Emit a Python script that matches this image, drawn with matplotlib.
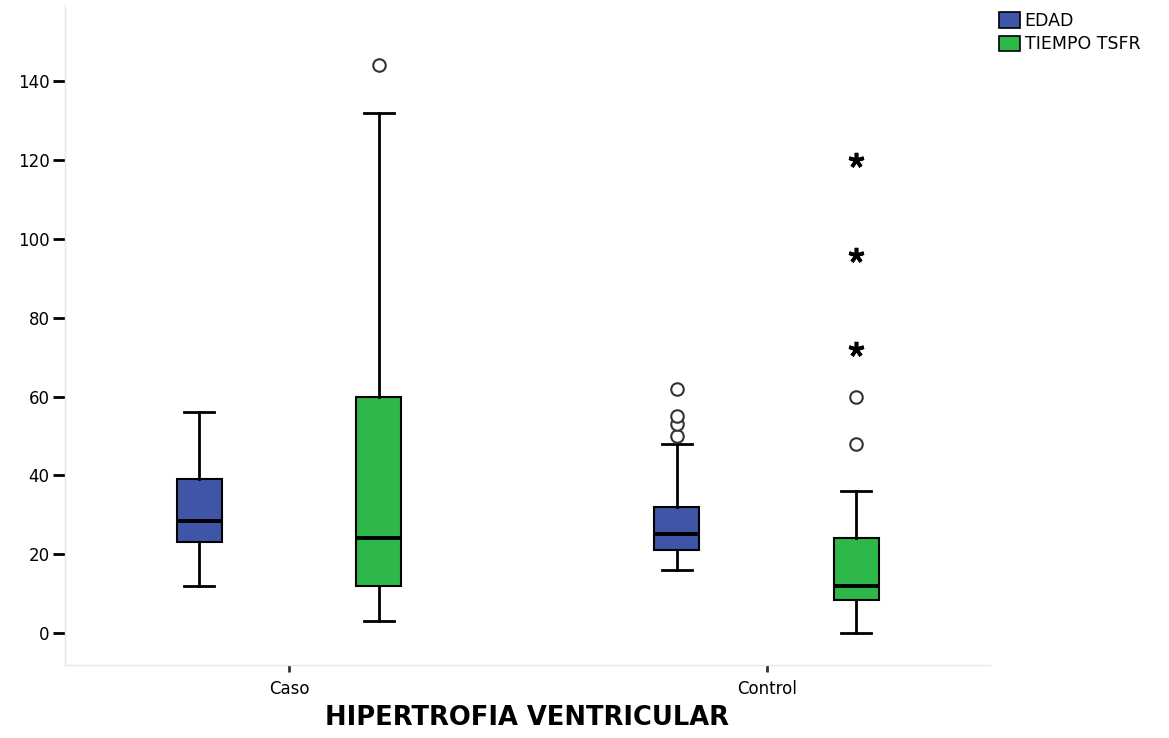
import matplotlib.pyplot as plt
from matplotlib.patches import Patch

plt.rcParams['font.family'] = ['DejaVu Sans']

# data (summary values of each box)
groups = ["Caso", "Control"]
series = ["EDAD", "TIEMPO TSFR"]
colors = ["#3F56A8", "#2FB84A"]

edad_whislo = [12, 16]
edad_q1 = [23, 21]
edad_med = [28.5, 25]
edad_q3 = [39, 32]
edad_whishi = [56, 48]
edad_outliers = [[], [50, 53, 55, 62]]
edad_extremes = [[], []]

tsfr_whislo = [3, 0]
tsfr_q1 = [12, 8.5]
tsfr_med = [24, 12]
tsfr_q3 = [60, 24]
tsfr_whishi = [132, 36]
tsfr_outliers = [[144], [48, 60]]
tsfr_extremes = [[], [72, 96, 120]]

y_ticks = [0, 20, 40, 60, 80, 100, 120, 140]

all_stats = [
    (edad_whislo, edad_q1, edad_med, edad_q3, edad_whishi, edad_outliers, edad_extremes),
    (tsfr_whislo, tsfr_q1, tsfr_med, tsfr_q3, tsfr_whishi, tsfr_outliers, tsfr_extremes),
]

fig = plt.figure(figsize=(11.69, 7.38), dpi=100)
ax = fig.add_axes([0.0556, 0.099, 0.791, 0.894])

offset = 0.188
width = 0.094

for s, (wlo, q1, med, q3, whi, outl, extr) in enumerate(all_stats):
    stats = []
    positions = []
    for g in range(len(groups)):
        stats.append(dict(whislo=wlo[g], q1=q1[g], med=med[g], q3=q3[g],
                          whishi=whi[g], fliers=outl[g]))
        positions.append(g + (offset if s == 1 else -offset))
    ax.bxp(stats, positions=positions, widths=width, capwidths=0.063,
           patch_artist=True, showfliers=True,
           boxprops=dict(facecolor=colors[s], edgecolor="black", linewidth=1.5),
           medianprops=dict(color="black", linewidth=2.8),
           whiskerprops=dict(color="black", linewidth=2),
           capprops=dict(color="black", linewidth=2),
           flierprops=dict(marker="o", markerfacecolor="white",
                           markeredgecolor="#333333", markersize=9,
                           markeredgewidth=1.5))
    # extreme values drawn as asterisks
    for g in range(len(groups)):
        if extr[g]:
            x = g + (offset if s == 1 else -offset)
            ax.plot([x] * len(extr[g]), extr[g], linestyle="none",
                    marker=(5, 2, 0), color="black", markersize=11,
                    markeredgewidth=2.6)

ax.set_xlim(-0.469, 1.467)
ax.set_ylim(-8.1, 159.3)
ax.set_xticks(range(len(groups)))
ax.set_xticklabels(groups, fontsize=12)
ax.set_yticks(y_ticks)
ax.set_yticklabels([str(t) for t in y_ticks], fontsize=12)
ax.tick_params(axis="y", length=9, width=2, color="black", pad=2)
ax.tick_params(axis="x", length=5, width=2, color="#333333", pad=6)

for side in ["top", "right"]:
    ax.spines[side].set_visible(False)
for side in ["left", "bottom"]:
    ax.spines[side].set_color("#e6e6e6")
    ax.spines[side].set_linewidth(1)

ax.set_xlabel("HIPERTROFIA VENTRICULAR", fontsize=18.5, fontweight="bold", labelpad=5)

handles = [Patch(facecolor=colors[i], edgecolor="black", linewidth=1.2, label=series[i])
           for i in range(len(series))]
fig.legend(handles=handles, loc="upper left", bbox_to_anchor=(0.849, 0.993),
           frameon=False, fontsize=12.5, handlelength=1.2, handleheight=1.0,
           handletextpad=0.25, labelspacing=0.3, borderaxespad=0)

fig.savefig("out.png", dpi=100)
